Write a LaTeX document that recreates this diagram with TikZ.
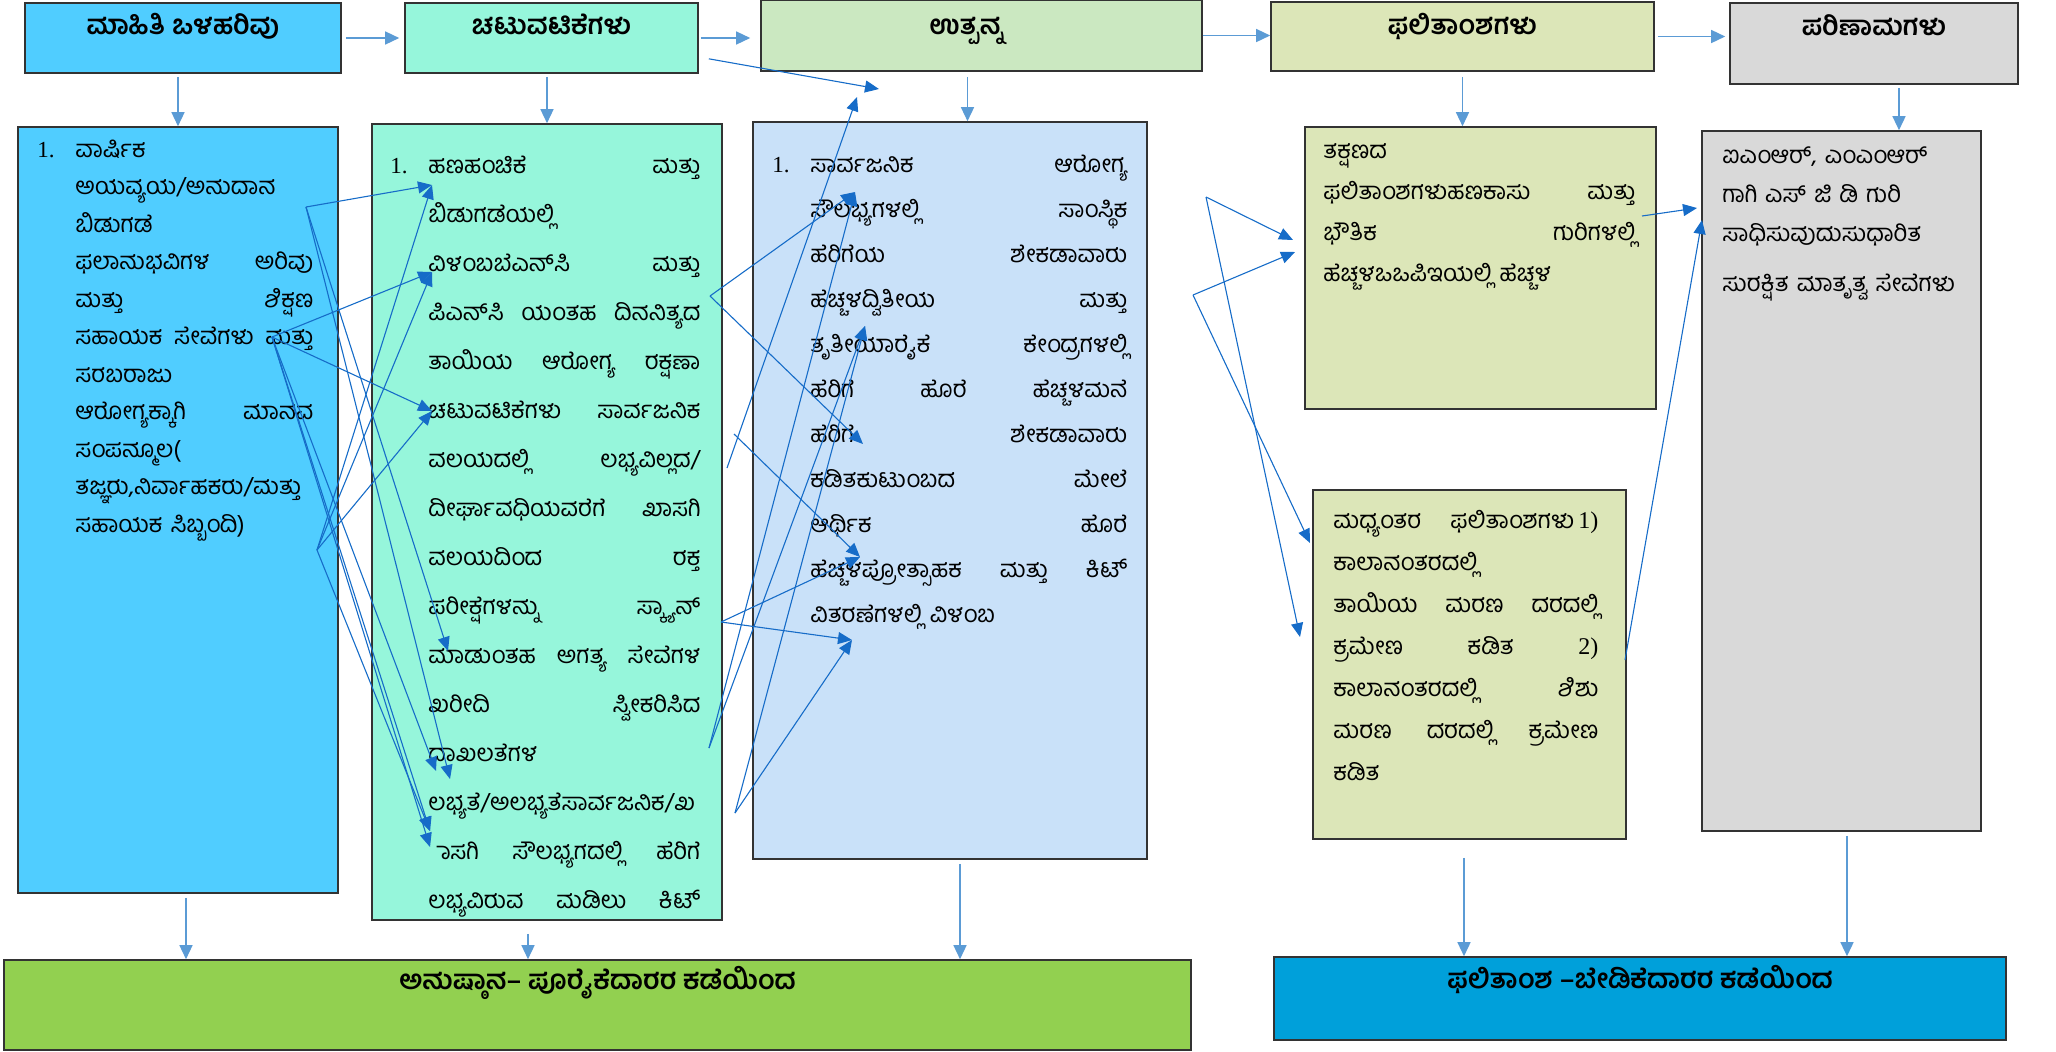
\documentclass[tikz,border=0pt]{standalone}
\usepackage{fontspec}
\setmainfont{Liberation Serif}
\newfontfamily\kn[Script=Kannada,RawFeature=-abvm]{Hind Mysuru}
\usetikzlibrary{arrows.meta,fit,positioning}
\definecolor{inblue}{RGB}{80,205,255}
\definecolor{actmint}{RGB}{150,246,219}
\definecolor{outhead}{RGB}{203,232,193}
\definecolor{outblue}{RGB}{201,225,249}
\definecolor{resolive}{RGB}{220,230,184}
\definecolor{impgray}{RGB}{217,217,217}
\definecolor{supgreen}{RGB}{146,208,80}
\definecolor{demblue}{RGB}{0,160,218}
\definecolor{flowblue}{RGB}{91,155,213}
\definecolor{linkblue}{RGB}{22,108,200}
\lineskiplimit=-100pt
\newcommand\jline[1]{\leavevmode\hbox to \linewidth{#1}}

\begin{document}
\begin{tikzpicture}[x=0.5pt,y=-0.5pt,
    panel/.style={draw=black!80,line width=0.8pt,fill=#1,inner sep=0pt},
    headtext/.style={font=\kn\bfseries\fontsize{13.5}{16}\selectfont,inner sep=0pt,anchor=base},
    bodytext/.style={font=\kn\fontsize{12}{#1}\selectfont,inner sep=0pt,anchor=base west,align=left},
    numtext/.style={font=\fontsize{11.5}{14}\selectfont,inner sep=0pt,anchor=base west},
    flow/.style={draw=flowblue,line width=0.7pt,-{Triangle[length=7pt,width=6.5pt]}},
    link/.style={draw=linkblue,line width=0.55pt,-{Triangle[length=7pt,width=6pt]}}]
        \useasboundingbox (0,0) rectangle (2056,1051);

        \node[panel=inblue,fit={(25,3) (341,73)}] (h1) {};
        \node[panel=actmint,fit={(405,3) (698,73)}] (h2) {};
        \node[panel=outhead,fit={(761,0) (1202,71)}] (h3) {};
        \node[panel=resolive,fit={(1271,2) (1654,71)}] (h4) {};
        \node[panel=impgray,fit={(1730,3) (2018,84)}] (h5) {};
        \node[headtext] (h1t) at ([yshift=-16pt]h1.north) {ಮಾಹಿತಿ ಒಳಹರಿವು};
        \node[headtext] (h2t) at ([yshift=-16pt]h2.north) {ಚಟುವಟಿಕೆಗಳು};
        \node[headtext] (h3t) at ([xshift=-7.5pt,yshift=-17.5pt]h3.north) {ಉತ್ಪನ್ನ};
        \node[headtext] (h4t) at ([yshift=-16.5pt]h4.north) {ಫಲಿತಾಂಶಗಳು};
        \node[headtext] (h5t) at ([yshift=-16.5pt]h5.north) {ಪರಿಣಾಮಗಳು};

        \node[panel=inblue,fit={(18,127) (338,893)}] (A) {};
        \node[panel=actmint,fit={(372,124) (722,920)}] (B) {};
        \node[panel=outblue,fit={(753,122) (1147,859)}] (C) {};
        \node[panel=resolive,fit={(1305,127) (1656,409)}] (D) {};
        \node[panel=resolive,fit={(1313,490) (1626,839)}] (E) {};
        \node[panel=impgray,fit={(1702,131) (1981,831)}] (F) {};

        \node[panel=supgreen,fit={(4,960) (1191,1050)}] (sup) {};
        \node[panel=demblue,fit={(1274,957) (2006,1040)}] (dem) {};
        \node[headtext] (supt) at ([yshift=-15pt]sup.north) {ಅನುಷ್ಠಾನ– ಪೂರೈಕೆದಾರರ ಕಡೆಯಿಂದ};
        \node[headtext] (demt) at ([yshift=-16pt]dem.north) {ಫಲಿತಾಂಶ –ಬೇಡಿಕೆದಾರರ ಕಡೆಯಿಂದ};

        \node[numtext] (An) at (37,157) {1.};
        \node[bodytext=18.75pt,text width=119pt] (At) at (75,157) {ವಾರ್ಷಿಕ\\
            ಅಯವ್ಯಯ/ಅನುದಾನ\\
            ಬಿಡುಗಡೆ\\
            \jline{ಫಲಾನುಭವಿಗಳ\hfill ಅರಿವು}\\
            \jline{ಮತ್ತು\hfill ಶಿಕ್ಷಣ}\\
            \jline{ಸಹಾಯಕ\hfill ಸೇವೆಗಳು\hfill ಮತ್ತು}\\
            ಸರಬರಾಜು\\
            \jline{ಆರೋಗ್ಯಕ್ಕಾಗಿ\hfill ಮಾನವ}\\
            ಸಂಪನ್ಮೂಲ(\\
            ತಜ್ಞರು,ನಿರ್ವಾಹಕರು/ಮತ್ತು\\
            ಸಹಾಯಕ ಸಿಬ್ಬಂದಿ)};

        \node[numtext] (Bn) at (390,173) {1.};
        \node[bodytext=24.5pt,text width=136pt] (Bt) at (428,173) {\jline{ಹಣಹಂಚಿಕೆ\hfill ಮತ್ತು}\\
            ಬಿಡುಗಡೆಯಲ್ಲಿ\\
            \jline{ವಿಳಂಬಬೆಎನ್^^^^200cಸಿ\hfill ಮತ್ತು}\\
            \jline{ಪಿಎನ್^^^^200cಸಿ\hfill ಯಂತಹ\hfill ದಿನನಿತ್ಯದ}\\
            \jline{ತಾಯಿಯ\hfill ಆರೋಗ್ಯ\hfill ರಕ್ಷಣಾ}\\
            \jline{ಚಟುವಟಿಕೆಗಳು\hfill ಸಾರ್ವಜನಿಕ}\\
            \jline{ವಲಯದಲ್ಲಿ\hfill ಲಭ್ಯವಿಲ್ಲದ/}\\
            \jline{ದೀರ್ಘಾವಧಿಯವರೆಗೆ\hfill ಖಾಸಗಿ}\\
            \jline{ವಲಯದಿಂದ\hfill ರಕ್ತ}\\
            \jline{ಪರೀಕ್ಷೆಗಳನ್ನು\hfill ಸ್ಕ್ಯಾನ್}\\
            \jline{ಮಾಡುಂತಹ\hfill ಅಗತ್ಯ\hfill ಸೇವೆಗಳ}\\
            \jline{ಖರೀದಿ\hfill ಸ್ವೀಕರಿಸಿದ}\\
            ದಾಖಲತೆಗಳ\\
            ಲಭ್ಯತೆ/ಅಲಭ್ಯತೆಸಾರ್ವಜನಿಕ/ಖ\\
            \jline{\char"00A0 ಾಸಗಿ\hfill ಸೌಲಭ್ಯಗದಲ್ಲಿ\hfill ಹೆರಿಗೆ}\\
            \jline{ಲಭ್ಯವಿರುವ\hfill ಮಡಿಲು\hfill ಕಿಟ್}};

        \node[numtext] (Cn) at (772,172) {1.};
        \node[bodytext=22.5pt,text width=158.5pt] (Ct) at (810,172) {\jline{ಸಾರ್ವಜನಿಕ\hfill ಆರೋಗ್ಯ}\\
            \jline{ಸೌಲಭ್ಯಗಳಲ್ಲಿ\hfill ಸಾಂಸ್ಥಿಕ}\\
            \jline{ಹೆರಿಗೆಯ\hfill ಶೇಕಡಾವಾರು}\\
            \jline{ಹೆಚ್ಚಳದ್ವಿತೀಯ\hfill ಮತ್ತು}\\
            \jline{ತೃತೀಯಾರೈಕೆ\hfill ಕೇಂದ್ರಗಳಲ್ಲಿ}\\
            \jline{ಹೆರಿಗೆ\hfill ಹೊರೆ\hfill ಹೆಚ್ಚಳಮನೆ}\\
            \jline{ಹೆರಿಗೆ\hfill ಶೇಕಡಾವಾರು}\\
            \jline{ಕಡಿತಕುಟುಂಬದ\hfill ಮೇಲೆ}\\
            \jline{ಆರ್ಥಿಕ\hfill ಹೊರೆ}\\
            \jline{ಹೆಚ್ಚಳಪ್ರೋತ್ಸಾಹಕ\hfill ಮತ್ತು\hfill ಕಿಟ್}\\
            ವಿತರಣೆಗಳಲ್ಲಿ ವಿಳಂಬ};

        \node[bodytext=20.5pt,text width=156pt] (Dt) at (1323,158) {ತಕ್ಷಣದ\\
            \jline{ಫಲಿತಾಂಶಗಳುಹಣಕಾಸು\hfill ಮತ್ತು}\\
            \jline{ಭೌತಿಕ\hfill ಗುರಿಗಳಲ್ಲಿ}\\
            ಹೆಚ್ಚಳಒಒಪಿಇಯಲ್ಲಿ ಹೆಚ್ಚಳ};

        \node[bodytext=21pt,text width=132.5pt] (Et) at (1333,528) {\jline{ಮಧ್ಯಂತರ\hfill ಫಲಿತಾಂಶಗಳು\,{\rmfamily 1)}}\\
            ಕಾಲಾನಂತರದಲ್ಲಿ\\
            \jline{ತಾಯಿಯ\hfill ಮರಣ\hfill ದರದಲ್ಲಿ}\\
            \jline{ಕ್ರಮೇಣ\hfill ಕಡಿತ\hfill {\rmfamily 2)}}\\
            \jline{ಕಾಲಾನಂತರದಲ್ಲಿ\hfill ಶಿಶು}\\
            \jline{ಮರಣ\hfill ದರದಲ್ಲಿ\hfill ಕ್ರಮೇಣ}\\
            ಕಡಿತ};

        \node[bodytext=19.5pt,text width=125pt] (Ft) at (1722,163) {ಐಎಂಆರ್, ಎಂಎಂಆರ್\\
            ಗಾಗಿ ಎಸ್ ಜಿ ಡಿ ಗುರಿ\\
            ಸಾಧಿಸುವುದುಸುಧಾರಿತ\\[5.5pt]
            ಸುರಕ್ಷಿತ ಮಾತೃತ್ವ ಸೇವೆಗಳು};

        \draw[flow,shorten <=2pt,shorten >=2.5pt] (h1.east) -- (h1.east -| h2.west);
        \draw[flow,shorten <=1pt,shorten >=5pt] (h2.east) -- (h2.east -| h3.west);
        \draw[flow] (h3.east) -- (h3.east -| h4.west);
        \draw[flow,shorten <=1.5pt,shorten >=2pt] (h4.east) -- (h4.east -| h5.west);

        \coordinate (h3d) at ([xshift=-7pt]h3.south);
        \coordinate (h5d) at ([xshift=12.5pt]h5.south);
        \draw[flow,shorten <=1.5pt] (h1.south -| A.north) -- (A.north);
        \draw[flow,shorten <=1.5pt] (h2.south -| B.north) -- (B.north);
        \draw[flow,shorten <=2.5pt] (h3d) -- (h3d |- C.north);
        \draw[flow,shorten <=2.5pt] (h4.south) -- (h4.south |- D.north);
        \draw[flow,shorten <=1.5pt] (h5d) -- (h5d |- F.north);

        \coordinate (Ad) at ([xshift=4pt]A.south);
        \coordinate (Bd) at ([xshift=-9.5pt]B.south);
        \coordinate (Cd) at ([xshift=5pt]C.south);
        \coordinate (Ed) at ([xshift=-2.75pt]E.south);
        \coordinate (Fd) at ([xshift=2.75pt]F.south);
        \draw[flow,shorten <=2pt] (Ad) -- (Ad |- sup.north);
        \draw[flow,shorten <=6.5pt] (Bd) -- (Bd |- sup.north);
        \draw[flow,shorten <=2pt] (Cd) -- (Cd |- sup.north);
        \draw[flow,shorten <=9pt] (Ed) -- (Ed |- dem.north);
        \draw[flow,shorten <=2pt] (Fd) -- (Fd |- dem.north);

        \coordinate (a1) at (306,207);
        \coordinate (a2) at (272,337);
        \coordinate (a3) at (317,550);
        \coordinate (b1) at (432,185);
        \coordinate (b2) at (432,272);
        \coordinate (b3) at (432,411);
        \coordinate (b4) at (448,651);
        \coordinate (b5) at (436,771);
        \coordinate (b6) at (450,779);
        \coordinate (b7) at (430,831);
        \coordinate (b8) at (430,847);
        \draw[link] (a1) -- (b1);
        \draw[link] (a1) -- (b4);
        \draw[link] (a1) -- (b6);
        \draw[link] (a2) -- (b2);
        \draw[link] (a2) -- (b3);
        \draw[link] (a2) -- (b5);
        \draw[link] (a2) -- (b7);
        \draw[link] (a2) -- (b8);
        \draw[link] (a3) -- (b1);
        \draw[link] (a3) -- (b2);
        \draw[link] (a3) -- (b3);
        \draw[link] (a3) -- (b7);

        \coordinate (h2o) at ([xshift=5pt,yshift=7.5pt]h2.south east);
        \coordinate (q1) at (710,296);
        \coordinate (q2) at (727,468);
        \coordinate (q3) at (734,434);
        \coordinate (q4) at (721,622);
        \coordinate (q5) at (709,748);
        \coordinate (q6) at (735,813);
        \coordinate (t1) at (879,89);
        \coordinate (t2) at (857,97);
        \coordinate (c1) at (855,192);
        \coordinate (c2) at (865,326);
        \coordinate (c3) at (863,444);
        \coordinate (c4) at (860,557);
        \coordinate (c5) at (852,640);
        \draw[link] (h2o) -- (t1);
        \draw[link] (q2) -- (t2);
        \draw[link] (q1) -- (c1);
        \draw[link] (q1) -- (c3);
        \draw[link] (q3) -- (c4);
        \draw[link] (q4) -- (c4);
        \draw[link] (q4) -- (c5);
        \draw[link] (q5) -- (c1);
        \draw[link] (q5) -- (c2);
        \draw[link] (q6) -- (c2);
        \draw[link] (q6) -- (c5);

        \coordinate (r1) at (1206,197);
        \coordinate (r2) at (1193,295);
        \coordinate (d1) at (1293,240);
        \coordinate (d2) at (1295,252);
        \coordinate (e1) at (1310,543);
        \coordinate (e2) at (1300,637);
        \draw[link] (r1) -- (d1);
        \draw[link] (r1) -- (e2);
        \draw[link] (r2) -- (d2);
        \draw[link] (r2) -- (e1);

        \coordinate (s1) at (1642,216);
        \coordinate (s2) at (1625,660);
        \coordinate (f1) at (1697,208);
        \coordinate (f2) at (1702,220);
        \draw[link] (s1) -- (f1);
        \draw[link] (s2) -- (f2);
    \end{tikzpicture}
\end{document}
